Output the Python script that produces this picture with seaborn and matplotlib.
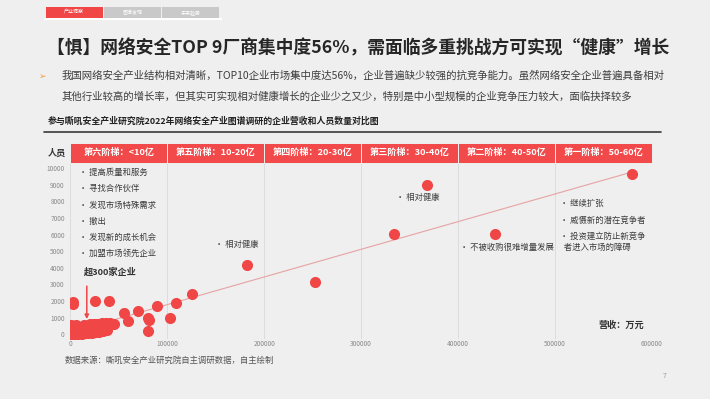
import matplotlib
matplotlib.use("Agg")
import matplotlib.pyplot as plt
from matplotlib.patches import Rectangle
import seaborn as sns
import pandas as pd
import numpy as np

# ---------------- data ----------------
# large / visible companies: revenue (万元) and staff
big_revenue = [579000, 368000, 334000, 438000, 182000, 252600, 126000, 109000, 89700, 69400,
               55000, 60000, 79700, 81000, 102700, 79700, 25400, 40200, 2400, 3000]
big_staff = [9660, 9010, 6020, 6020, 4190, 3170, 2430, 1890, 1700, 1380,
             1300, 800, 1000, 860, 980, 200, 2000, 2000, 1930, 1800]

# dense cluster of small companies (超300家企业)
small_revenue = [200, 400, 600, 800, 1000, 1500, 2000, 2500, 3000, 300,
                 700, 1200, 1800, 2200, 2800, 3500, 4000, 4500, 5000, 5500,
                 6000, 6500, 7000, 7500, 8000, 9000, 10000, 11000, 12000, 13000,
                 14000, 15000, 16000, 17000, 18000, 19000, 20000, 21000, 22000, 23000,
                 24000, 25000, 26000, 27000, 28000, 29000, 30000, 31000, 32000, 33000,
                 34000, 35000, 36000, 37000, 38000, 39000, 40000, 41000, 43000, 45000,
                 3000, 5000, 8000, 10000, 12000, 15000, 18000, 22000, 26000, 30000,
                 34000, 38000, 1000, 2000, 6000, 14000, 20000, 24000, 28000, 36000]
small_staff = [50, 120, 300, 450, 80, 200, 520, 350, 150, 30,
               250, 480, 100, 380, 60, 270, 420, 180, 90, 330,
               500, 140, 260, 400, 70, 310, 200, 450, 120, 360,
               240, 500, 160, 420, 300, 550, 210, 380, 480, 260,
               600, 340, 450, 520, 280, 620, 400, 560, 350, 660,
               480, 600, 420, 700, 520, 640, 580, 700, 620, 650,
               20, 40, 30, 60, 40, 80, 70, 100, 120, 150,
               180, 250, 550, 480, 560, 560, 600, 620, 640, 560]

tiers = ["第六阶梯：<10亿", "第五阶梯：10-20亿", "第四阶梯：20-30亿",
         "第三阶梯：30-40亿", "第二阶梯：40-50亿", "第一阶梯：50-60亿"]
x_ticks = [0, 100000, 200000, 300000, 400000, 500000, 600000]
y_ticks = [0, 1000, 2000, 3000, 4000, 5000, 6000, 7000, 8000, 9000, 10000]

tier6_notes = ["提高质量和服务", "寻找合作伙伴", "发现市场特殊需求", "撤出", "发现新的成长机会", "加盟市场领先企业"]
tier1_notes = ["继续扩张", "威慑新的潜在竞争者", "投资建立防止新竞争\n  者进入市场的障碍"]

title = "【惧】网络安全TOP 9厂商集中度56%，需面临多重挑战方可实现“健康”增长"
para1 = "我国网络安全产业结构相对清晰，TOP10企业市场集中度达56%，企业普遍缺少较强的抗竞争能力。虽然网络安全企业普遍具备相对"
para2 = "其他行业较高的增长率，但其实可实现相对健康增长的企业少之又少，特别是中小型规模的企业竞争压力较大，面临抉择较多"
subtitle = "参与嘶吼安全产业研究院2022年网络安全产业图谱调研的企业营收和人员数量对比图"
source = "数据来源：嘶吼安全产业研究院自主调研数据，自主绘制"
tabs = ["产业洞察", "图谱发现", "未来趋势"]

df = pd.DataFrame({
    "营收": big_revenue + small_revenue,
    "人员": big_staff + small_staff,
})

# ---------------- style ----------------
sns.set_theme(style="white")
BG = "#efefef"
RED = "#f04646"
FONT = ["Noto Sans CJK SC", "DejaVu Sans"]
plt.rcParams["font.family"] = FONT
plt.rcParams["axes.unicode_minus"] = False

W, H = 710, 399
fig = plt.figure(figsize=(W / 100, H / 100), dpi=100, facecolor=BG)


def fx(px):
    return px / W


def fy(py):
    return 1 - py / H


# axes placement
Y0, Y1 = -300, 11520
ax = fig.add_axes([fx(70.3), fy(339.3), fx(652) - fx(70.3), fy(143) - fy(339.3)])
ax.set_facecolor(BG)

for xv in x_ticks:
    ax.axvline(xv, color="#dcdcdc", lw=0.7, zorder=0)

sns.regplot(data=df, x="营收", y="人员", scatter=False, ci=None, truncate=True,
            line_kws=dict(color="#e6a3a3", lw=0.8, zorder=1), ax=ax)
sns.scatterplot(data=df, x="营收", y="人员", s=64, color=RED, linewidth=0,
                alpha=1, zorder=3, ax=ax, legend=False)

ax.set_xlim(0, 600000)
ax.set_ylim(Y0, Y1)
ax.set_xticks(x_ticks)
ax.set_xticklabels([str(v) for v in x_ticks])
ax.set_yticks(y_ticks)
ax.set_yticklabels([str(v) for v in y_ticks])
ax.tick_params(axis="both", length=0, labelsize=4.7, labelcolor="#8a8a8a")
ax.tick_params(axis="x", pad=0.8)
ax.tick_params(axis="y", pad=4)
ax.set_xlabel("")
ax.set_ylabel("")
for s in ax.spines.values():
    s.set_visible(False)

# tier header band
for i, t in enumerate(tiers):
    ax.add_patch(Rectangle((i * 100000, 10330), 100000, Y1 - 10330, facecolor="#f24a4a",
                           edgecolor=BG, lw=0.7, zorder=4, clip_on=False))
    ax.text(i * 100000 + 50000, (10330 + Y1) / 2, t, ha="center", va="center",
            color="white", fontsize=6.6, fontweight="bold", zorder=5)

note_kw = dict(fontsize=6.0, color="#3c3c3c", va="center", ha="left", zorder=5)
for j, n in enumerate(tier6_notes):
    ax.text(8600, 9760 - j * 980, "• " + n, **note_kw)
ax.text(148800, 5420, "• 相对健康", **note_kw)
ax.text(336000, 8230, "• 相对健康", **note_kw)
ax.text(402000, 5220, "• 不被收购很难增量发展", **note_kw)
ax.text(505000, 7870, "• " + tier1_notes[0], **note_kw)
ax.text(505000, 6870, "• " + tier1_notes[1], **note_kw)
ax.text(505000, 5560, "• " + tier1_notes[2], **note_kw)

ax.annotate("", xy=(17000, 750), xytext=(17000, 3070),
            arrowprops=dict(arrowstyle="-|>", color=RED, lw=1.1, mutation_scale=6), zorder=6)
ax.text(14400, 3760, "超300家企业", fontsize=6.6, fontweight="bold", color="#333333",
        ha="left", va="center")
ax.text(592000, 540, "营收：万元", fontsize=6.6, fontweight="bold", color="#333333",
        ha="right", va="center")

# ---------------- page texts ----------------
fig.text(fx(56.7), fy(153), "人员", fontsize=6.6, fontweight="bold", color="#333333",
         ha="center", va="center")

# tabs
tab_x = [45.7, 103.7, 162.0]
tab_col = [RED, "#c9c9c9", "#c9c9c9"]
fig.patches.append(Rectangle((fx(43.5), fy(20)), fx(222) - fx(43.5), fy(18) - fy(20),
                             transform=fig.transFigure, facecolor="white", edgecolor="none"))
for tx, tc, tl in zip(tab_x, tab_col, tabs):
    fig.patches.append(Rectangle((fx(tx), fy(17.5)), fx(57), fy(7.3) - fy(17.5),
                                 transform=fig.transFigure, facecolor=tc, edgecolor="none"))
    fig.text(fx(tx + 28.5), fy(12.4), tl, fontsize=3.6, color="white", ha="center", va="center")

fig.text(fx(358.5), fy(48.3), title, fontsize=12.8, fontweight="bold", color="#262626",
         ha="center", va="center")
fig.text(fx(42.7), fy(76.5), "➢", fontsize=6.5, color="#f0a040", ha="center", va="center",
         family=["DejaVu Sans"])
fig.text(fx(61.7), fy(76), para1, fontsize=7.5, color="#3d3d3d", ha="left", va="center")
fig.text(fx(61.7), fy(96.5), para2, fontsize=7.5, color="#3d3d3d", ha="left", va="center")
fig.text(fx(47.3), fy(121.5), subtitle, fontsize=6.4, fontweight="bold", color="#222222",
         ha="left", va="center")
fig.lines.append(plt.Line2D([fx(44.3), fx(661)], [fy(131.7), fy(131.7)], transform=fig.transFigure,
                            color="#3a3a3a", lw=1.2))
fig.text(fx(64.3), fy(360), source, fontsize=6.0, color="#555555", ha="left", va="center")
fig.text(fx(665), fy(376), "7", fontsize=5, color="#999999", ha="center", va="center")

fig.savefig("out.png", dpi=100, facecolor=BG)
